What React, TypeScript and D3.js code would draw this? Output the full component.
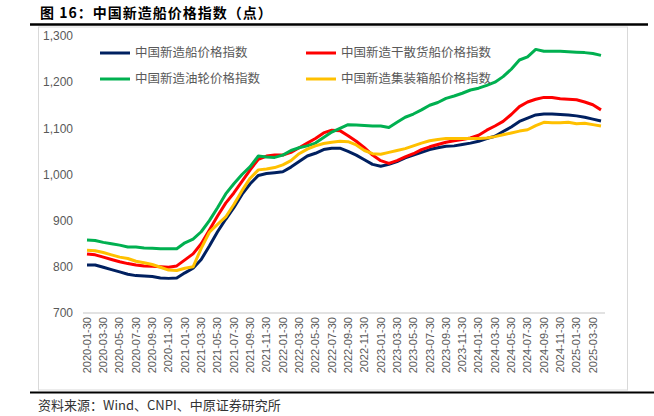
import React from "react";
import * as d3 from "d3";

const months: string[] = [];
for (let y = 2020; y <= 2025; y++) {
  for (let m = 1; m <= 12; m++) {
    if (y === 2025 && m > 4) break;
    months.push(`${y}-${String(m).padStart(2, "0")}-30`);
  }
}

const yTicks = [700, 800, 900, 1000, 1100, 1200, 1300];

const overall = [804, 804, 799, 794, 789, 784, 781, 780, 779, 776, 775, 776, 787, 797, 816, 845, 876, 903, 928, 957, 980, 998, 1002, 1004, 1006, 1016, 1028, 1040, 1046, 1054, 1057, 1057, 1050, 1042, 1032, 1022, 1018, 1022, 1028, 1036, 1042, 1048, 1054, 1058, 1061, 1062, 1065, 1068, 1072, 1078, 1083, 1093, 1103, 1115, 1122, 1129, 1131, 1131, 1130, 1129, 1127, 1124, 1120, 1116];
const bulk = [828, 826, 821, 816, 811, 807, 804, 802, 801, 800, 799, 802, 815, 828, 850, 880, 910, 938, 960, 985, 1010, 1033, 1040, 1042, 1042, 1048, 1058, 1068, 1078, 1090, 1096, 1095, 1084, 1072, 1058, 1042, 1030, 1024, 1030, 1038, 1045, 1054, 1060, 1065, 1070, 1073, 1076, 1079, 1085, 1096, 1105, 1115, 1130, 1147, 1157, 1163, 1167, 1167, 1164, 1163, 1162, 1157, 1151, 1140];
const tanker = [858, 857, 853, 850, 847, 843, 843, 841, 840, 839, 839, 839, 852, 860, 876, 900, 928, 958, 980, 1000, 1017, 1040, 1038, 1037, 1042, 1052, 1058, 1062, 1068, 1080, 1092, 1100, 1108, 1107, 1106, 1105, 1105, 1102, 1113, 1124, 1131, 1140, 1150, 1156, 1165, 1170, 1176, 1183, 1187, 1193, 1200, 1212, 1228, 1248, 1255, 1271, 1267, 1267, 1267, 1266, 1265, 1264, 1262, 1258];
const container = [836, 835, 831, 826, 821, 818, 812, 809, 805, 799, 793, 792, 797, 800, 840, 875, 892, 908, 935, 965, 992, 1010, 1012, 1015, 1021, 1030, 1045, 1055, 1062, 1067, 1070, 1072, 1071, 1064, 1052, 1045, 1044, 1048, 1052, 1056, 1062, 1068, 1073, 1076, 1078, 1078, 1078, 1078, 1078, 1079, 1082, 1086, 1090, 1094, 1097, 1106, 1113, 1112, 1112, 1113, 1110, 1111, 1108, 1105];

const seriesNames = ["中国新造船价格指数", "中国新造干散货船价格指数", "中国新造油轮价格指数", "中国新造集装箱船价格指数"];
const seriesColors = ["#002060", "#FF0000", "#00B050", "#FFC000"];
const seriesData = [overall, bulk, tanker, container];

const FONT = "'Liberation Sans', 'Noto Sans CJK SC', sans-serif";
const CJK = "'Noto Sans CJK SC', 'Liberation Sans', sans-serif";

export default function App() {
  const x = d3.scalePoint<string>().domain(months).range([87, 601]);
  const y = d3.scaleLinear().domain([700, 1300]).range([313, 36]);
  const line = d3
    .line<number>()
    .x((_, i) => x(months[i]) as number)
    .y((d) => y(d));

  const legendPos = [
    [100, 53],
    [306, 53],
    [100, 79],
    [306, 79],
  ];

  return (
    <div style={{ position: "fixed", left: 0, top: 0 }}>
      <svg width={654} height={416} style={{ display: "block", background: "#fff" }}>
        <text x={40} y={18} fontFamily={CJK} fontSize={14} fontWeight="bold" letterSpacing={1} fill="#000">
          图 16：中国新造船价格指数（点）
        </text>
        <line x1={30} x2={648} y1={24.5} y2={24.5} stroke="#000" strokeWidth={2.5} />
        <rect x={38.5} y={27} width={589} height={363} fill="none" stroke="#d9d9d9" strokeWidth={1} />
        <line x1={30} x2={654} y1={392.5} y2={392.5} stroke="#000" strokeWidth={2} />

        {yTicks.map((t) => (
          <text key={t} x={73} y={y(t)} dy="0.35em" textAnchor="end" fontFamily={FONT} fontSize={12} fill="#595959">
            {d3.format(",")(t)}
          </text>
        ))}

        <line x1={83} x2={605} y1={313} y2={313} stroke="#d9d9d9" strokeWidth={1.5} />

        {months.map((m, i) =>
          i % 2 === 0 ? (
            <text
              key={m}
              transform={`translate(${x(m)},317) rotate(-90)`}
              textAnchor="end"
              dy="0.35em"
              fontFamily={FONT}
              fontSize={11}
              fill="#595959"
            >
              {m}
            </text>
          ) : null
        )}

        {seriesData.map((s, k) => (
          <path key={k} d={line(s) || ""} fill="none" stroke={seriesColors[k]} strokeWidth={3} strokeLinejoin="round" />
        ))}

        {seriesNames.map((n, k) => (
          <g key={n}>
            <line x1={legendPos[k][0]} x2={legendPos[k][0] + 30} y1={legendPos[k][1]} y2={legendPos[k][1]} stroke={seriesColors[k]} strokeWidth={3} />
            <text x={legendPos[k][0] + 35} y={legendPos[k][1]} dy="0.35em" fontFamily={CJK} fontSize={12.5} fill="#595959">
              {n}
            </text>
          </g>
        ))}

        <text x={38} y={410} fontFamily={CJK} fontSize={13} fill="#333">
          资料来源：Wind、CNPI、中原证券研究所
        </text>
      </svg>
    </div>
  );
}
